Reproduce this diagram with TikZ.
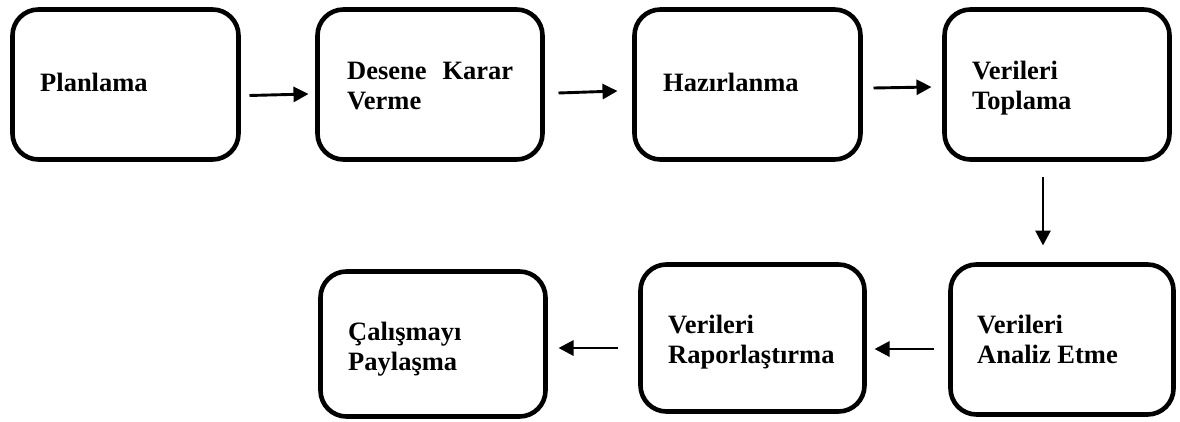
\documentclass[tikz,border=0pt]{standalone}
\usepackage{fontspec}
\setmainfont{Liberation Serif}
\usetikzlibrary{arrows.meta,calc}
\begin{document}
\begin{tikzpicture}[x=1pt,y=-1pt,
  box/.style={draw, line width=4.6pt, rounded corners=26pt, inner sep=0pt, outer sep=0pt},
  lbl/.style={font=\fontsize{26.5}{30}\selectfont\bfseries, align=left, inner sep=0pt, anchor=base west},
  arr/.style={line width=2.9pt, -{Triangle[length=15pt,width=15pt]}}]
\useasboundingbox (0,0) rectangle (1180,422);
% row 1
\node[box, minimum width=226pt, minimum height=150pt] (b1) at (125.5,84.5) {};
\node[box, minimum width=225pt, minimum height=150pt] (b2) at (430,84.5) {};
\node[box, minimum width=226pt, minimum height=150pt] (b3) at (747.5,84.5) {};
\node[box, minimum width=225pt, minimum height=150pt] (b4) at (1057,84.5) {};
% row 2
\node[box, minimum width=225pt, minimum height=145pt] (b5) at (433,344) {};
\node[box, minimum width=224pt, minimum height=147pt] (b6) at (752.5,338) {};
\node[box, minimum width=223pt, minimum height=150pt] (b7) at (1062,339.5) {};
% labels (base = baseline of last line)
\node[lbl] (t1) at (40,92) {Planlama};
\node[lbl] (t2) at (347,110) {\hbox to 166pt{Desene\hfill Karar}\\Verme};
\node[lbl] (t3) at (663,92) {Hazırlanma};
\node[lbl] (t4) at (972,110) {Verileri\\Toplama};
\node[lbl] (t5) at (348,370) {Çalışmayı\\Paylaşma};
\node[lbl] (t6) at (668,363) {Verileri\\Raporlaştırma};
\node[lbl] (t7) at (977,363) {Verileri\\Analiz Etme};
% connectors
\draw[arr] ($(b1.east)+(11,11)$) -- ($(b2.west)+(-9,9.5)$);
\draw[arr] ($(b2.east)+(16,8.5)$) -- ($(b3.west)+(-17,6.5)$);
\draw[arr] ($(b3.east)+(13,3.5)$) -- ($(b4.west)+(-13,2.5)$);
\draw[arr] ($(b4.south)+(-14,18)$) -- ($(b7.north)+(-19,-19)$);
\draw[arr] ($(b7.west)+(-17,9.5)$) -- ($(b6.east)+(10,11)$);
\draw[arr] ($(b6.west)+(-23,10)$) -- ($(b5.east)+(13,4)$);
\end{tikzpicture}
\end{document}
